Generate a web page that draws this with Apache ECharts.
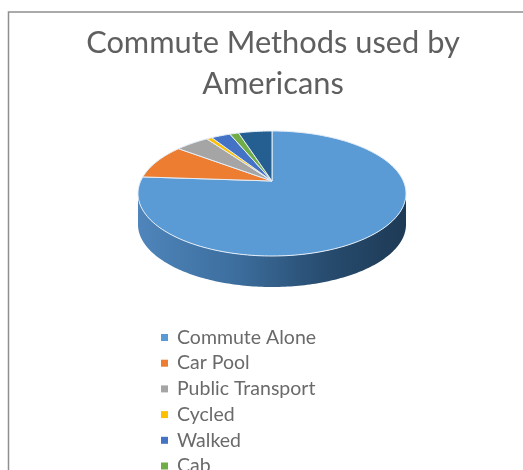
<!DOCTYPE html>
<html>
<head>
<meta charset="utf-8">
<style>
  html, body { margin: 0; padding: 0; background: #fff; overflow: hidden; }
  #wrap { width: 523px; height: 470px; overflow: hidden; }
  #chart { width: 523px; height: 560px; }
</style>
<script src="https://cdn.jsdelivr.net/npm/echarts@6/dist/echarts.min.js"></script>
</head>
<body>
<div id="wrap"><div id="chart"></div></div>
<script>
const titleText = 'Commute Methods used by\nAmericans';
const methods = ['Commute Alone', 'Car Pool', 'Public Transport', 'Cycled', 'Walked', 'Cab', 'Worked at Home'];
const shares = [76.1, 9.2, 4.9, 0.8, 2.8, 1.3, 4.9];
const colors = ['#5B9BD5', '#ED7D31', '#A5A5A5', '#FFC000', '#4472C4', '#70AD47', '#255E91'];

// Tilted-disc projection: the hub sits above the middle of the ellipse.
const hubX = 272, hubY = 181, radX = 131.3, radY = 60, tilt = 0.2, depth = 31;

function rimPoint(deg) {
  const a = deg * Math.PI / 180;
  const w = 1 + tilt * Math.cos(a);
  return [hubX + radX * Math.sin(a) / w, hubY - radY * Math.cos(a) / w];
}

const total = shares.reduce((s, v) => s + v, 0);

function wedgeStart(index) {
  // Slices run clockwise from twelve o'clock, largest first.
  let before = 0;
  for (let i = 0; i < index; i++) before += shares[i];
  return before / total * 360;
}

function wallPoints() {
  // Front wall: the rim from its right extreme round to its left extreme,
  // then back along the same arc dropped by the disc depth.
  const widestAngle = Math.acos(-tilt) * 180 / Math.PI;
  const arc = [];
  for (let d = widestAngle; d <= 360 - widestAngle; d += 1) arc.push(rimPoint(d));
  arc.push(rimPoint(360 - widestAngle));
  const dropped = arc.slice().reverse().map(p => [p[0], p[1] + depth]);
  return arc.concat(dropped);
}

function renderWedge(index) {
  return function (params, api) {
    const start = wedgeStart(index);
    const end = start + api.value(0) / total * 360;
    const pts = [[hubX, hubY]];
    const steps = Math.max(2, Math.ceil((end - start) / 1.5));
    for (let i = 0; i <= steps; i++) pts.push(rimPoint(start + (end - start) * i / steps));
    const wedge = {
      type: 'polygon',
      shape: { points: pts },
      style: { fill: colors[index], stroke: '#e4eef8', lineWidth: 1, lineJoin: 'round' }
    };
    if (index !== 0) return wedge;
    return {
      type: 'group',
      children: [{
        type: 'polygon',
        shape: { points: wallPoints() },
        style: {
          fill: new echarts.graphic.LinearGradient(0, 0, 1, 0, [
            { offset: 0, color: '#4f85bb' },
            { offset: 0.35, color: '#3d6f9f' },
            { offset: 0.7, color: '#274c6f' },
            { offset: 1, color: '#1e3a55' }
          ])
        }
      }, wedge]
    };
  };
}

const chart = echarts.init(document.getElementById('chart'), null, { renderer: 'canvas' });
chart.setOption({
  animation: false,
  backgroundColor: '#fff',
  title: {
    text: titleText,
    left: 268,
    top: 18,
    textAlign: 'center',
    textStyle: { fontFamily: 'Lato', fontSize: 30.8, fontWeight: 'normal', color: '#5f5f5f', lineHeight: 41 }
  },
  legend: {
    orient: 'vertical',
    left: 156,
    top: 322,
    itemWidth: 7,
    itemHeight: 7,
    itemGap: 4.7,
    icon: 'rect',
    data: methods,
    textStyle: { fontFamily: 'Lato', fontSize: 19.5, color: '#6a6a6a', lineHeight: 21, padding: [0, 0, 0, 4] }
  },
  graphic: [
    { type: 'polyline', silent: true, shape: { points: [[8.5, 470], [8.5, 12], [523, 12]] },
      style: { stroke: '#8f8f8f', fill: null, lineWidth: 1.5 } }
  ],
  series: methods.map((name, i) => ({
    type: 'custom',
    name: name,
    coordinateSystem: 'none',
    silent: true,
    itemStyle: { color: colors[i] },
    renderItem: renderWedge(i),
    data: [[shares[i]]]
  }))
});
</script>
</body>
</html>
